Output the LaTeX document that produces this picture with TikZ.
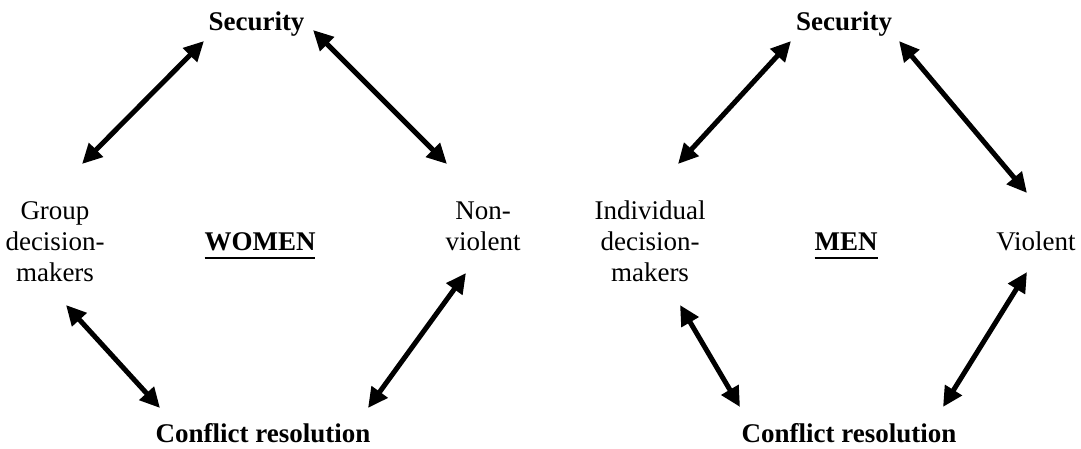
\documentclass[tikz,border=0pt]{standalone}
\usepackage{fontspec}
\setmainfont{Liberation Serif}
\usetikzlibrary{arrows.meta}
\newcommand\ulword[1]{\setbox0\hbox{#1}\rlap{\rule[-9pt]{\wd0}{2.2pt}}\box0}
\tikzset{
  lbl/.style={anchor=base, inner sep=0pt, align=center, font=\fontsize{27}{31}\selectfont},
  dbl/.style={line width=5pt, {Triangle[length=20pt,width=19pt]}-{Triangle[length=20pt,width=19pt]}}
}
\begin{document}
\begin{tikzpicture}[x=1pt,y=1pt]
\useasboundingbox (0,0) rectangle (1081,-449);
% ---------- WOMEN ----------
\node[lbl] (secL) at (256.5,-31) {\bfseries Security};
\node[lbl] (grpL) at (55,-281) {Group\\decision-\\makers};
\node[lbl] (nvL) at (483,-250) {Non-\\violent};
\node[lbl] (womL) at (260,-250) {\bfseries\ulword{WOMEN}};
\node[lbl] (conL) at (263,-442) {\bfseries Conflict resolution};
\coordinate (secL-a) at (204,-41);
\coordinate (grpL-a) at (82,-164);
\coordinate (secL-b) at (313,-30);
\coordinate (nvL-a) at (447,-164);
\coordinate (grpL-b) at (66,-305);
\coordinate (conL-a) at (160,-408);
\coordinate (nvL-b) at (466,-273);
\coordinate (conL-b) at (368,-408);
\draw[dbl] (secL-a) -- (grpL-a);
\draw[dbl] (secL-b) -- (nvL-a);
\draw[dbl] (grpL-b) -- (conL-a);
\draw[dbl] (nvL-b) -- (conL-b);
% ---------- MEN ----------
\node[lbl] (secR) at (844,-31) {\bfseries Security};
\node[lbl] (indR) at (650,-281) {Individual\\decision-\\makers};
\node[lbl] (vioR) at (1036,-250) {Violent};
\node[lbl] (menR) at (846,-250) {\bfseries\ulword{MEN}};
\node[lbl] (conR) at (849,-442) {\bfseries Conflict resolution};
\coordinate (secR-a) at (791,-41);
\coordinate (indR-a) at (678,-164);
\coordinate (secR-b) at (899,-41);
\coordinate (vioR-a) at (1027,-193);
\coordinate (indR-b) at (680,-305);
\coordinate (conR-a) at (740,-407);
\coordinate (vioR-b) at (1027,-272);
\coordinate (conR-b) at (943,-407);
\draw[dbl] (secR-a) -- (indR-a);
\draw[dbl] (secR-b) -- (vioR-a);
\draw[dbl] (indR-b) -- (conR-a);
\draw[dbl] (vioR-b) -- (conR-b);
\end{tikzpicture}
\end{document}
